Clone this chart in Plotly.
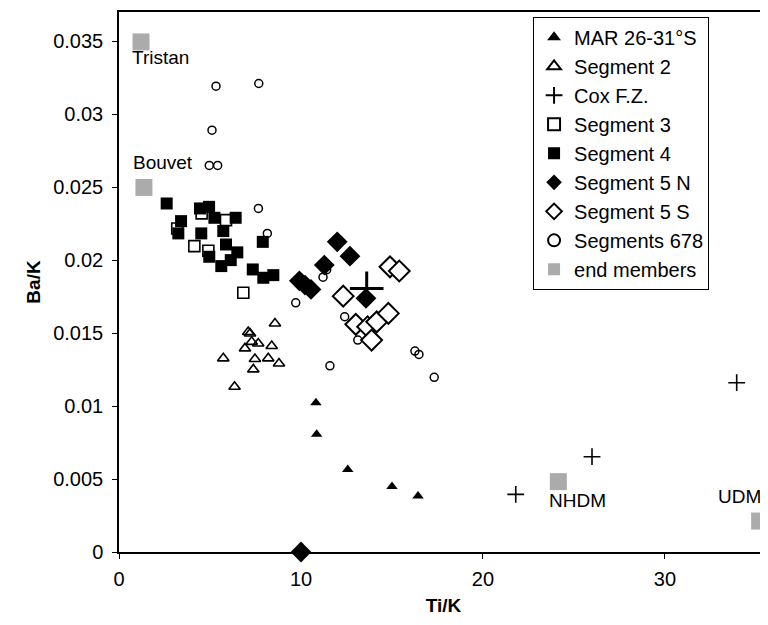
import plotly.graph_objects as go

# ---- data (Ti/K, Ba/K) ----
mar_x = [10.82, 10.86, 12.57, 15.0, 16.43]
mar_y = [0.01023, 0.00806, 0.00566, 0.00449, 0.00384]

seg2_x = [8.57, 7.10, 7.20, 7.29, 7.65, 6.92, 8.39, 5.73, 7.47, 8.20, 8.79, 7.38, 6.35]
seg2_y = [0.01566, 0.01507, 0.01497, 0.01440, 0.01429, 0.01395, 0.01411, 0.01327,
          0.01322, 0.01327, 0.01292, 0.01251, 0.01132]

cox_x = [13.61, 21.80, 25.99, 33.94]
cox_y = [0.01806, 0.00395, 0.00653, 0.01160]

seg3_x = [4.54, 5.88, 3.20, 4.14, 4.91, 6.83]
seg3_y = [0.02320, 0.02274, 0.02217, 0.02096, 0.02064, 0.01776]

seg4_x = [2.62, 4.45, 4.95, 3.41, 3.26, 5.24, 6.41, 4.52, 5.73, 5.88, 4.96, 6.50,
          6.14, 5.62, 7.90, 7.35, 7.93, 8.48]
seg4_y = [0.02388, 0.02354, 0.02365, 0.02267, 0.02183, 0.02290, 0.02290, 0.02183,
          0.02199, 0.02107, 0.02023, 0.02053, 0.02000, 0.01959, 0.02125, 0.01936,
          0.01879, 0.01897]

seg5n_x = [11.99, 12.69, 11.28, 9.91, 10.22, 10.55, 13.57, 10.0]
seg5n_y = [0.02125, 0.02027, 0.01966, 0.01858, 0.01829, 0.01799, 0.01738, 0.0]

seg5s_x = [12.32, 13.01, 13.66, 14.16, 14.80, 13.88, 14.89, 15.40]
seg5s_y = [0.01753, 0.01560, 0.01543, 0.01577, 0.01635, 0.01452, 0.01954, 0.01925]

seg678_x = [5.33, 7.68, 5.11, 4.96, 5.42, 7.66, 8.15, 9.71, 11.21, 11.41, 12.40,
            13.12, 16.26, 16.48, 17.32, 11.59]
seg678_y = [0.03192, 0.03210, 0.02890, 0.02649, 0.02649, 0.02354, 0.02183, 0.01707,
            0.01883, 0.01934, 0.01612, 0.01452, 0.01377, 0.01354, 0.01197, 0.01276]

end_names = ["Tristan", "Bouvet", "NHDM", "UDM"]
end_x = [1.21, 1.37, 24.14, 35.2]
end_y = [0.03495, 0.02498, 0.00482, 0.00212]

x_ticks = [0, 10, 20, 30]
y_ticks = [0, 0.005, 0.01, 0.015, 0.02, 0.025, 0.03, 0.035]
y_ticklabels = ["0", "0.005", "0.01", "0.015", "0.02", "0.025", "0.03", "0.035"]

FONT = "Liberation Sans, Arial, Helvetica, sans-serif"
BLACK = "#000000"

fig = go.Figure()

def add(x, y, name, symbol, size, lw=0, showlegend=True, fill=BLACK):
    fig.add_trace(go.Scatter(
        x=x, y=y, mode="markers", name=name, showlegend=showlegend,
        cliponaxis=False,
        marker=dict(symbol=symbol, size=size, color=fill,
                    line=dict(color=BLACK, width=lw)),
    ))

add(mar_x, mar_y, "MAR 26-31°S", "triangle-up", 10)
add(seg2_x, seg2_y, "Segment 2", "triangle-up-open", 10, lw=1.6)
add(cox_x[1:], cox_y[1:], "Cox F.Z.", "cross-thin-open", 12, lw=1.6)
add(seg3_x, seg3_y, "Segment 3", "square", 11, lw=1.6, fill="white")
add(seg4_x, seg4_y, "Segment 4", "square", 12)
add(seg5n_x, seg5n_y, "Segment 5 N", "diamond", 16)
add(seg5s_x, seg5s_y, "Segment 5 S", "diamond", 16, lw=2, fill="white")
add(seg678_x, seg678_y, "Segments 678", "circle-open", 8, lw=1.5)
add(end_x, end_y, "end members", "square", 17, fill="#ababab")
# large cross for the first Cox F.Z. sample
add(cox_x[:1], cox_y[:1], "Cox F.Z.", "cross-thin-open", 24, lw=3, showlegend=False)

# labels of end members
label_style = {
    "Tristan": dict(xanchor="left", yanchor="top", xshift=-11, yshift=-3),
    "Bouvet": dict(xanchor="left", yanchor="bottom", xshift=-13, yshift=12),
    "NHDM": dict(xanchor="left", yanchor="top", xshift=-11, yshift=-6),
    "UDM": dict(xanchor="right", yanchor="bottom", xshift=3, yshift=12),
}
for nm, xx, yy in zip(end_names, end_x, end_y):
    fig.add_annotation(x=xx, y=yy, text=nm, showarrow=False,
                       font=dict(family=FONT, size=19, color=BLACK),
                       **label_style[nm])

fig.update_layout(
    width=760, height=617,
    margin=dict(l=111, r=0, t=4, b=73),
    paper_bgcolor="white", plot_bgcolor="white",
    font=dict(family=FONT, size=20, color=BLACK),
    showlegend=True,
    legend=dict(
        x=0.638, y=0.991, xanchor="left", yanchor="top",
        bgcolor="white", bordercolor=BLACK, borderwidth=1,
        font=dict(family=FONT, size=20, color=BLACK),
        itemsizing="constant", tracegroupgap=0,
    ),
    xaxis=dict(
        range=[0, 35.66], tickvals=x_ticks, ticktext=[str(v) for v in x_ticks],
        showgrid=False, zeroline=False, showline=True, linecolor=BLACK, linewidth=1.5,
        mirror=True, ticks="outside", ticklen=5, tickcolor=BLACK,
        ticklabelstandoff=3, automargin=False, tickfont=dict(size=20),
        title=dict(text="<b>Ti/K</b>", font=dict(family=FONT, size=19), standoff=10),
    ),
    yaxis=dict(
        range=[0, 0.037], tickvals=y_ticks, ticktext=y_ticklabels,
        showgrid=False, zeroline=False, showline=True, linecolor=BLACK, linewidth=1.5,
        ticks="outside", ticklen=5, tickcolor=BLACK,
        ticklabelstandoff=5, automargin=False, tickfont=dict(size=20),
        title=dict(text="<b>Ba/K</b>", font=dict(family=FONT, size=19), standoff=8),
    ),
)

fig.write_html("out.html")
